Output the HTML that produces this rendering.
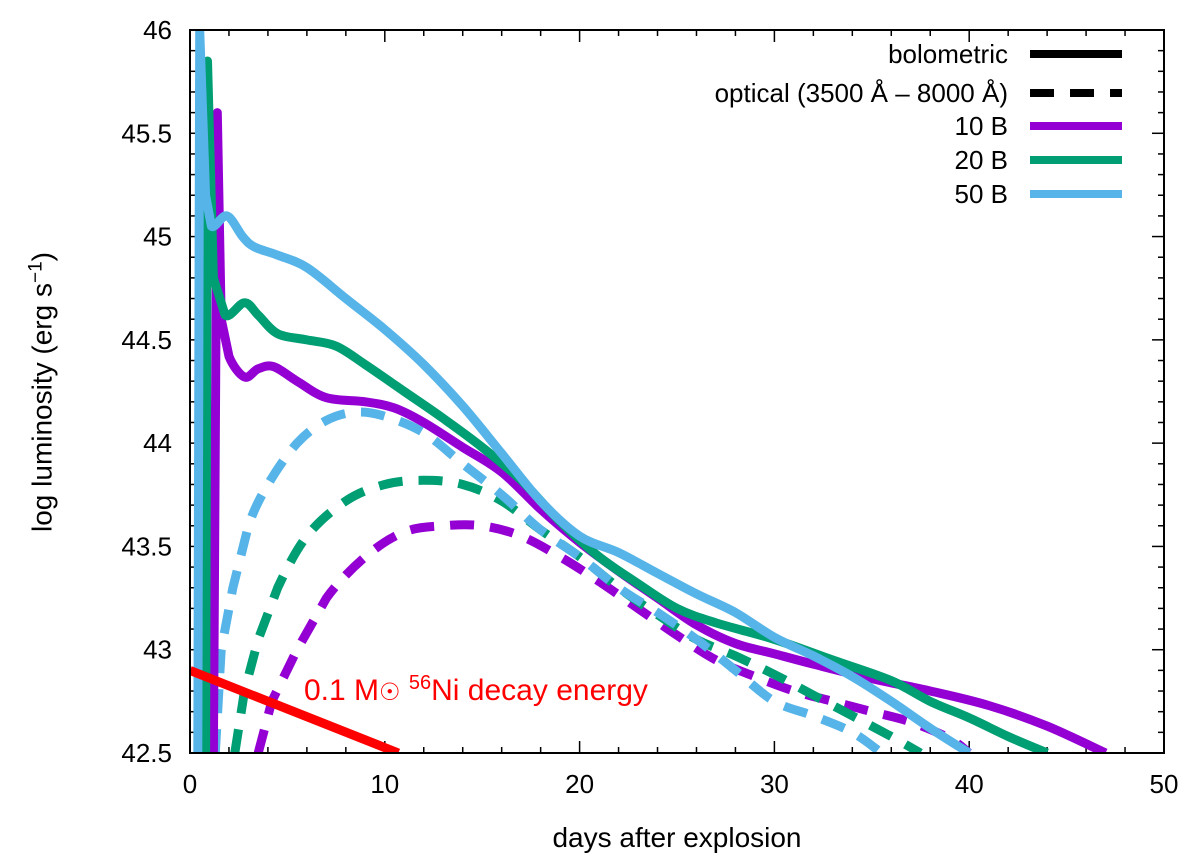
<!DOCTYPE html>
<html><head><meta charset="utf-8"><style>body{margin:0;background:#fff}svg{display:block;font-family:"Liberation Sans",sans-serif}</style></head>
<body>
<svg id="c" width="1200" height="864"></svg>
<script>
const xTicks=[0,10,20,30,40,50];
const yTicks=[42.5,43,43.5,44,44.5,45,45.5,46];
const yTickLabels=["42.5","43","43.5","44","44.5","45","45.5","46"];
const bol50=[[0.4,42.5],[0.5,46],[0.8,45.2],[1.1,45.05],[1.9,45.1],[2.7,45.0],[3.3,44.95],[4.5,44.91],[6,44.85],[8,44.7],[10,44.55],[12,44.38],[14,44.18],[16,43.95],[18,43.72],[20,43.55],[22,43.47],[24,43.37],[26,43.27],[28,43.18],[30,43.06],[32,42.97],[34,42.87],[36,42.75],[38,42.62],[40,42.5]];
const bol20=[[0.8,42.5],[0.9,45.85],[1.2,44.8],[1.8,44.62],[2.8,44.68],[3.5,44.62],[4.5,44.53],[6,44.5],[7.5,44.47],[9,44.38],[11,44.25],[13,44.12],[15,43.98],[17,43.82],[19,43.62],[21,43.45],[23,43.32],[25,43.2],[27,43.13],[30,43.05],[33,42.95],[36,42.85],[38,42.75],[40,42.67],[42,42.58],[44,42.5]];
const bol10=[[1.2,42.5],[1.4,45.6],[1.6,44.6],[2,44.42],[2.8,44.32],[3.5,44.36],[4.3,44.37],[5.5,44.3],[7,44.22],[9,44.2],[10.5,44.17],[12,44.1],[14,43.98],[16,43.86],[18,43.68],[20,43.52],[22,43.38],[24,43.25],[26,43.12],[28,43.03],[30,42.98],[32,42.93],[35,42.86],[38,42.8],[41,42.73],[44,42.63],[47,42.5]];
const opt50=[[1.3,42.5],[1.6,43],[2.2,43.3],[3,43.6],[4,43.8],[5.5,44],[7,44.11],[8.5,44.15],[10,44.13],[12,44.05],[14,43.9],[16,43.75],[18,43.58],[20,43.45],[22,43.3],[24,43.18],[26,43.05],[28,42.9],[30,42.75],[32,42.68],[34,42.6],[35.5,42.5]];
const opt20=[[2.3,42.5],[2.8,42.8],[3.5,43.05],[4.5,43.3],[6,43.55],[8,43.72],[10,43.8],[12,43.82],[14,43.8],[16,43.72],[18,43.58],[20,43.45],[22,43.3],[24,43.17],[26,43.05],[28,42.97],[30,42.88],[32,42.78],[34,42.68],[36,42.58],[37.5,42.5]];
const opt10=[[3.5,42.5],[4.2,42.75],[5.5,43.0],[7,43.25],[9,43.45],[11,43.57],[13,43.6],[15,43.6],[17,43.55],[19,43.45],[21,43.33],[23,43.2],[25,43.07],[27,42.95],[29,42.87],[31,42.8],[33,42.75],[35,42.7],[37,42.65],[39,42.57],[40,42.5]];
const nickel=[[0,42.9],[10.7,42.5]];
const L=190,R=1164,T=30,B=753;
const X=d=>L+(d-0)/50*(R-L), Y=v=>B-(v-42.5)/3.5*(B-T);
const s=document.getElementById('c');const NS="http://www.w3.org/2000/svg";
function el(t,a,p){const e=document.createElementNS(NS,t);for(const k in a)e.setAttribute(k,a[k]);(p||s).appendChild(e);return e;}
const defs=el('clipPath',{id:'cp'});el('rect',{x:L,y:T,width:R-L,height:B-T},defs);
let g=el('g',{});
for(let d=0;d<=50;d+=2){const h=(d%10==0)?12:6;el('line',{x1:X(d),x2:X(d),y1:B,y2:B-h,stroke:'#000','stroke-width':1.5},g);el('line',{x1:X(d),x2:X(d),y1:T,y2:T+h,stroke:'#000','stroke-width':1.5},g);}
for(let i=0;i<=35;i++){const v=42.5+i*0.1;const h=(i%5==0)?12:6;el('line',{x1:L,x2:L+h,y1:Y(v),y2:Y(v),stroke:'#000','stroke-width':1.5},g);el('line',{x1:R,x2:R-h,y1:Y(v),y2:Y(v),stroke:'#000','stroke-width':1.5},g);}
xTicks.forEach(d=>{const t=el('text',{x:X(d),y:793,'font-size':26,'text-anchor':'middle'});t.textContent=d;});
yTicks.forEach((v,i)=>{const t=el('text',{x:172,y:Y(v)+9,'font-size':26,'text-anchor':'end'});t.textContent=yTickLabels[i];});
const pg=el('g',{'clip-path':'url(#cp)'});
function pathD(pts){const P=pts.map(q=>[X(q[0]),Y(q[1])]);let d='M'+P[0][0].toFixed(1)+','+P[0][1].toFixed(1);
for(let i=0;i<P.length-1;i++){const p0=P[Math.max(0,i-1)],p1=P[i],p2=P[i+1],p3=P[Math.min(P.length-1,i+2)];
const sharp=(i<3);const k=sharp?0:1/6;
const c1=[p1[0]+(p2[0]-p0[0])*k,p1[1]+(p2[1]-p0[1])*k],c2=[p2[0]-(p3[0]-p1[0])*k,p2[1]-(p3[1]-p1[1])*k];
d+='C'+c1.map(v=>v.toFixed(1)).join(',')+' '+c2.map(v=>v.toFixed(1)).join(',')+' '+p2[0].toFixed(1)+','+p2[1].toFixed(1);}return d;}
function line(pts,c,dash,name){const p=el('path',{d:pathD(pts),fill:'none',stroke:c,'stroke-width':9,'stroke-dasharray':dash||'none','stroke-linejoin':'round'},pg);}
line(opt10,'#9400d3','24,16','optical-10b');line(opt20,'#009e73','24,16','optical-20b');line(opt50,'#56b4e9','24,16','optical-50b');
line(bol10,'#9400d3',null,'bolometric-10b');line(bol20,'#009e73',null,'bolometric-20b');line(bol50,'#56b4e9',null,'bolometric-50b');
line(nickel,'#ff0000',null,'nickel-decay-line');
el('rect',{x:L,y:T,width:R-L,height:B-T,fill:'none',stroke:'#000','stroke-width':2});
const leg=[['bolometric','#000',null],['optical (3500 Å – 8000 Å)','#000','24,16'],['10 B','#9400d3',null],['20 B','#009e73',null],['50 B','#56b4e9',null]];
const ly=[54,93,126,160,194];
leg.forEach((l,i)=>{const lg=el('g',{});
const t=el('text',{x:1008,y:ly[i]+9,'font-size':26,'text-anchor':'end'},lg);t.textContent=l[0];
el('line',{x1:1030,x2:1122,y1:ly[i],y2:ly[i],stroke:l[1],'stroke-width':8,'stroke-dasharray':l[2]||'none'},lg);});
</script>
<div style="position:absolute;left:304px;top:672px;color:#f00;font:30px 'Liberation Sans',sans-serif;white-space:nowrap">0.1 M<span style="font-family:'DejaVu Sans';font-size:24px">☉</span> <sup style="font-size:20px">56</sup>Ni decay energy</div>
<div style="position:absolute;left:190px;top:822px;width:974px;text-align:center;font:28px 'Liberation Sans',sans-serif">days after explosion</div>
<div style="position:absolute;left:42px;top:392px;transform:translate(-50%,-50%) rotate(-90deg);white-space:nowrap;font:28px 'Liberation Sans',sans-serif">log luminosity (erg s<sup style="font-size:19px">−1</sup>)</div>
</body></html>
